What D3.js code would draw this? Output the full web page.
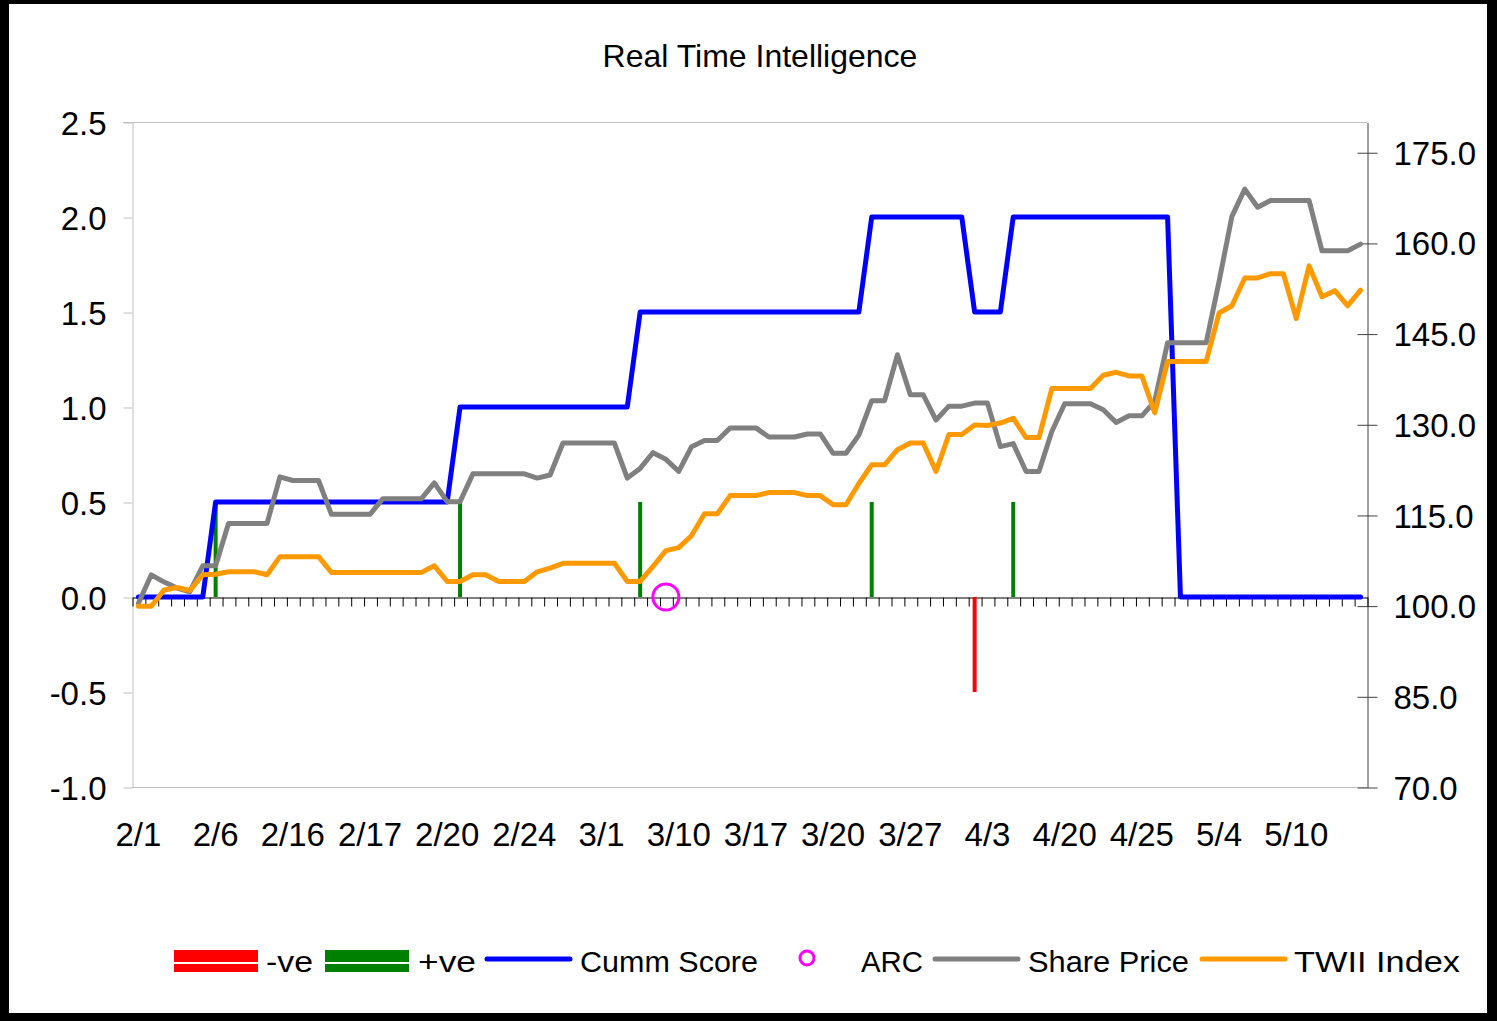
<!DOCTYPE html>
<html>
<head>
<meta charset="utf-8">
<title>Real Time Intelligence</title>
<script src="https://cdn.jsdelivr.net/npm/d3@7"></script>
<style>
  body { margin: 0; background: #000; }
  text { font-family: "Liberation Sans", Arial, sans-serif; fill: #000; }
</style>
</head>
<body>
<div id="chart"></div>
<script>
// x labels, shown on every 6th day
var tickLabels = ["2/1", "2/6", "2/16", "2/17", "2/20", "2/24", "3/1", "3/10",
  "3/17", "3/20", "3/27", "4/3", "4/20", "4/25", "5/4", "5/10"];
var labelStep = 6;

var cummScore = [
  0, 0, 0, 0, 0, 0,
  0.5, 0.5, 0.5, 0.5, 0.5, 0.5, 0.5, 0.5, 0.5, 0.5, 0.5, 0.5, 0.5, 0.5, 0.5, 0.5, 0.5, 0.5, 0.5,
  1, 1, 1, 1, 1, 1, 1, 1, 1, 1, 1, 1, 1, 1,
  1.5, 1.5, 1.5, 1.5, 1.5, 1.5, 1.5, 1.5, 1.5, 1.5, 1.5, 1.5, 1.5, 1.5, 1.5, 1.5, 1.5, 1.5,
  2, 2, 2, 2, 2, 2, 2, 2,
  1.5, 1.5, 1.5,
  2, 2, 2, 2, 2, 2, 2, 2, 2, 2, 2, 2, 2,
  0, 0, 0, 0, 0, 0, 0, 0, 0, 0, 0, 0, 0, 0, 0
];

var sharePrice = [
  100.4, 105.1, 103.9, 102.9, 102.3, 106.6, 106.6, 113.6, 113.6, 113.6,
  113.6, 121.3, 120.7, 120.7, 120.7, 115.1, 115.1, 115.1, 115.1, 117.7,
  117.7, 117.7, 117.7, 120.3, 117.2, 117.2, 121.8, 121.8, 121.8, 121.8,
  121.8, 121.1, 121.6, 126.9, 126.9, 126.9, 126.9, 126.9, 121.1, 122.7,
  125.3, 124.2, 122.2, 126.3, 127.3, 127.3, 129.4, 129.4, 129.4, 127.9,
  127.9, 127.9, 128.4, 128.4, 125.2, 125.2, 128.2, 133.9, 133.9, 141.5,
  134.9, 134.9, 130.7, 133.0, 133.0, 133.5, 133.5, 126.3, 126.8, 122.2,
  122.2, 128.8, 133.4, 133.4, 133.4, 132.4, 130.3, 131.4, 131.4, 133.8,
  143.5, 143.5, 143.5, 143.5, 153.6, 164.4, 168.9, 165.9, 167.0, 167.0,
  167.0, 167.0, 158.7, 158.7, 158.7, 159.8
];

var twiiIndex = [
  99.9, 99.9, 102.6, 103.0, 102.5, 105.1, 105.2, 105.6, 105.6, 105.6,
  105.1, 108.1, 108.1, 108.1, 108.1, 105.5, 105.5, 105.5, 105.5, 105.5,
  105.5, 105.5, 105.5, 106.6, 104.0, 104.0, 105.1, 105.1, 104.0, 104.0,
  104.0, 105.6, 106.2, 107.0, 107.0, 107.0, 107.0, 107.0, 104.0, 104.0,
  106.5, 109.1, 109.6, 111.6, 115.2, 115.2, 118.2, 118.2, 118.2, 118.7,
  118.7, 118.7, 118.2, 118.2, 116.7, 116.7, 120.2, 123.3, 123.3, 125.8,
  126.9, 126.9, 122.2, 128.3, 128.3, 129.9, 129.8, 130.2, 131.0, 127.8,
  127.8, 135.9, 135.9, 135.9, 135.9, 138.1, 138.6, 138.0, 138.0, 131.9,
  140.4, 140.4, 140.4, 140.4, 148.4, 149.6, 154.2, 154.2, 154.9, 154.9,
  147.5, 156.2, 151.1, 152.1, 149.6, 152.2
];

// [day index, value]
var plusVe = [[6, 0.5], [25, 0.5], [39, 0.5], [57, 0.5], [68, 0.5]];
var minusVe = [[65, -0.5]];
var arc = [[41, 0]];

var scoreTicks = [-1, -0.5, 0, 0.5, 1, 1.5, 2, 2.5];
var priceTicks = [70, 85, 100, 115, 130, 145, 160, 175];

var W = 1497, H = 1021;
var plotLeft = 132, plotRight = 1367, plotTop = 122, plotBottom = 787;
var font = "Liberation Sans, Arial, sans-serif";

var svg = d3.select("#chart").append("svg")
    .attr("width", W)
    .attr("height", H);

// black frame round a white chart area
svg.append("rect").attr("width", W).attr("height", H).attr("fill", "#000");
svg.append("rect")
    .attr("x", 9).attr("y", 4)
    .attr("width", W - 19).attr("height", H - 12)
    .attr("fill", "#fff");

var days = d3.range(cummScore.length);
var x = d3.scaleBand().domain(days).range([plotLeft, plotRight]);
var cx = function(i) { return x(i) + x.bandwidth() / 2; };
var xEdge = d3.scaleLinear().domain([0, days.length]).range([plotLeft, plotRight]);
var yL = d3.scaleLinear().domain([-1, 2.5]).range([plotBottom, plotTop]);
var yR = d3.scaleLinear().domain([70, 180]).range([plotBottom, plotTop]);

svg.append("text")
    .attr("x", 760).attr("y", 67)
    .attr("text-anchor", "middle")
    .attr("font-size", 32)
    .text("Real Time Intelligence");

// plot area border lines
svg.append("line")
    .attr("x1", plotLeft - 9).attr("x2", plotRight)
    .attr("y1", yL(2.5) + 0.5).attr("y2", yL(2.5) + 0.5)
    .attr("stroke", "#c0c0c0");
svg.append("line")
    .attr("x1", plotLeft).attr("x2", plotRight)
    .attr("y1", yL(-1) + 0.5).attr("y2", yL(-1) + 0.5)
    .attr("stroke", "#c0c0c0");

// left axis
var gL = svg.append("g")
    .attr("transform", "translate(" + (plotLeft + 0.5) + ",0.5)")
    .call(d3.axisLeft(yL).tickValues(scoreTicks).tickSize(9).tickSizeOuter(0)
      .tickPadding(17).tickFormat(function(d) { return d.toFixed(1); }));
gL.attr("font-size", 33).attr("font-family", font);
gL.select(".domain").attr("stroke", "#c0c0c0");
gL.selectAll(".tick line").attr("stroke", "#c0c0c0");
gL.selectAll(".tick text").attr("fill", "#000").attr("dy", "0.35em");

// right axis
var gR = svg.append("g")
    .attr("transform", "translate(" + (plotRight + 0.5) + ",0.5)")
    .call(d3.axisRight(yR).tickValues(priceTicks).tickSize(10).tickSizeOuter(0)
      .tickPadding(16).tickFormat(function(d) { return d.toFixed(1); }));
gR.attr("font-size", 33).attr("font-family", font);
gR.select(".domain").attr("stroke", "#404040");
gR.selectAll(".tick line").attr("x1", -10).attr("stroke", "#404040");
gR.selectAll(".tick text").attr("fill", "#000").attr("dy", "0.35em");

// category axis on the zero line
var gX = svg.append("g")
    .attr("transform", "translate(0.5," + (yL(0) + 0.5) + ")")
    .call(d3.axisBottom(xEdge).tickValues(d3.range(days.length + 1))
      .tickSize(9).tickSizeOuter(0).tickFormat(""));
gX.select(".domain").attr("stroke", "#000");
gX.selectAll(".tick line").attr("stroke", "#000");

svg.selectAll(".xlab")
    .data(tickLabels)
    .enter().append("text")
    .attr("class", "xlab")
    .attr("x", function(d, i) { return cx(i * labelStep); })
    .attr("y", 846)
    .attr("text-anchor", "middle")
    .attr("font-size", 33)
    .text(function(d) { return d; });

// signal bars
function bars(data, color) {
  svg.append("g").selectAll("line")
    .data(data)
    .enter().append("line")
    .attr("x1", function(d) { return cx(d[0]); })
    .attr("x2", function(d) { return cx(d[0]); })
    .attr("y1", yL(0))
    .attr("y2", function(d) { return yL(d[1]); })
    .attr("stroke", color)
    .attr("stroke-width", 4);
}
bars(minusVe, "#ff0000");
bars(plusVe, "#008000");

function series(values, y, color) {
  var line = d3.line()
      .x(function(d, i) { return cx(i); })
      .y(function(d) { return y(d); });
  svg.append("path")
      .datum(values)
      .attr("d", line)
      .attr("fill", "none")
      .attr("stroke", color)
      .attr("stroke-width", 5)
      .attr("stroke-linejoin", "round")
      .attr("stroke-linecap", "round");
}
series(cummScore, yL, "#0000ff");

svg.selectAll(".arc")
    .data(arc)
    .enter().append("circle")
    .attr("class", "arc")
    .attr("cx", function(d) { return cx(d[0]); })
    .attr("cy", function(d) { return yL(d[1]); })
    .attr("r", 13)
    .attr("fill", "none")
    .attr("stroke", "#ff00ff")
    .attr("stroke-width", 3);

series(sharePrice, yR, "#808080");
series(twiiIndex, yR, "#ff9900");

// legend
var lg = svg.append("g").attr("font-size", 30);
function legendText(xPos, width, label) {
  lg.append("text").attr("x", xPos).attr("y", 972)
    .attr("textLength", width).attr("lengthAdjust", "spacingAndGlyphs")
    .text(label);
}
lg.append("rect").attr("x", 174).attr("y", 950).attr("width", 84).attr("height", 22).attr("fill", "#ff0000");
lg.append("line").attr("x1", 174).attr("x2", 258).attr("y1", 963).attr("y2", 963).attr("stroke", "#fff").attr("stroke-width", 2);
legendText(266, 47, "-ve");
lg.append("rect").attr("x", 325).attr("y", 950).attr("width", 84).attr("height", 22).attr("fill", "#008000");
lg.append("line").attr("x1", 325).attr("x2", 409).attr("y1", 963).attr("y2", 963).attr("stroke", "#fff").attr("stroke-width", 2);
legendText(418, 58, "+ve");
lg.append("line").attr("x1", 487).attr("x2", 570).attr("y1", 959).attr("y2", 959)
    .attr("stroke", "#0000ff").attr("stroke-width", 5).attr("stroke-linecap", "round");
legendText(580, 178, "Cumm Score");
lg.append("circle").attr("cx", 807).attr("cy", 958).attr("r", 7)
    .attr("fill", "none").attr("stroke", "#ff00ff").attr("stroke-width", 3);
legendText(861, 62, "ARC");
lg.append("line").attr("x1", 935).attr("x2", 1018).attr("y1", 959).attr("y2", 959)
    .attr("stroke", "#808080").attr("stroke-width", 5).attr("stroke-linecap", "round");
legendText(1028, 161, "Share Price");
lg.append("line").attr("x1", 1202).attr("x2", 1285).attr("y1", 959).attr("y2", 959)
    .attr("stroke", "#ff9900").attr("stroke-width", 5).attr("stroke-linecap", "round");
legendText(1294, 166, "TWII Index");
</script>
</body>
</html>
